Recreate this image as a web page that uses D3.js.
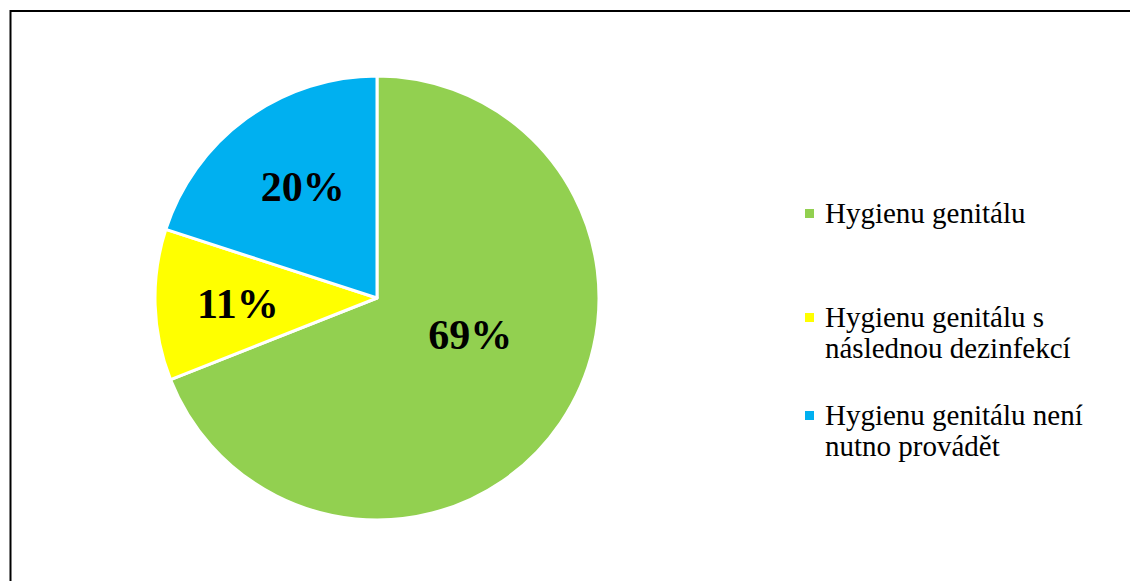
<!DOCTYPE html>
<html>
<head>
<meta charset="utf-8">
<script src="https://cdn.jsdelivr.net/npm/d3@7"></script>
<style>
  html, body { margin: 0; padding: 0; background: #fff; overflow: hidden; }
  svg { display: block; }
</style>
</head>
<body>
<div id="chart"></div>
<script>
var categories = ["Hygienu genitálu", "Hygienu genitálu s následnou dezinfekcí", "Hygienu genitálu není nutno provádět"];
var values = [69, 11, 20];
var colors = ["#92D050", "#FFFF00", "#00B0F0"];

var width = 1130,
    height = 581,
    cx = 377,
    cy = 298,
    radius = 222;

var svg = d3.select("#chart").append("svg")
    .attr("width", width)
    .attr("height", height);

// chart area frame, runs off the right and bottom edges
svg.append("rect")
    .attr("x", 10.5)
    .attr("y", 11)
    .attr("width", width)
    .attr("height", height)
    .attr("fill", "none")
    .attr("stroke", "#000")
    .attr("stroke-width", 2);

var pie = d3.pie().sort(null);
var arc = d3.arc().innerRadius(0).outerRadius(radius);
var labelArc = d3.arc().innerRadius(radius * 0.6).outerRadius(radius * 0.6);
var color = d3.scaleOrdinal().domain(categories).range(colors);
var format = d3.format(".0%");
var total = d3.sum(values);

var g = svg.append("g")
    .attr("transform", "translate(" + cx + "," + cy + ")");

var arcs = pie(values);

g.selectAll("path")
    .data(arcs)
    .enter().append("path")
    .attr("d", arc)
    .attr("fill", function (d, i) { return color(categories[i]); })
    .attr("stroke", "#fff")
    .attr("stroke-width", 3)
    .attr("stroke-linejoin", "round");

// excel "best fit" nudges the labels a bit off the centroids
var nudge = [[-17, -38], [-6, 2], [4, -3]];

g.selectAll("text.lbl")
    .data(arcs)
    .enter().append("text")
    .attr("class", "lbl")
    .attr("text-anchor", "middle")
    .attr("x", function (d, i) { return labelArc.centroid(d)[0] + nudge[i][0]; })
    .attr("y", function (d, i) { return labelArc.centroid(d)[1] + nudge[i][1] + 14; })
    .attr("font-family", "'Liberation Serif', 'Times New Roman', serif")
    .attr("font-weight", "bold")
    .attr("font-size", "42px")
    .attr("fill", "#000")
    .text(function (d) { return format(d.value / total); });

// legend
var legendX = 805,
    textX = 825,
    firstBaselines = [223, 327, 425],
    lineH = 31,
    maxW = 270;

var legend = svg.selectAll("g.leg")
    .data(categories)
    .enter().append("g")
    .attr("class", "leg");

legend.append("rect")
    .attr("x", legendX)
    .attr("y", function (d, i) { return firstBaselines[i] - 14; })
    .attr("width", 9)
    .attr("height", 9)
    .attr("fill", function (d) { return color(d); });

legend.each(function (d, i) {
    var t = d3.select(this).append("text")
        .attr("font-family", "'Liberation Serif', 'Times New Roman', serif")
        .attr("font-size", "29px")
        .attr("fill", "#000");
    var words = d.split(" "), line = [], n = 0;
    var tspan = t.append("tspan").attr("x", textX).attr("y", firstBaselines[i]);
    words.forEach(function (w) {
        line.push(w);
        tspan.text(line.join(" "));
        if (tspan.node().getComputedTextLength() > maxW && line.length > 1) {
            line.pop();
            tspan.text(line.join(" "));
            line = [w];
            n++;
            tspan = t.append("tspan").attr("x", textX)
                .attr("y", firstBaselines[i] + n * lineH).text(w);
        }
    });
});
</script>
</body>
</html>
